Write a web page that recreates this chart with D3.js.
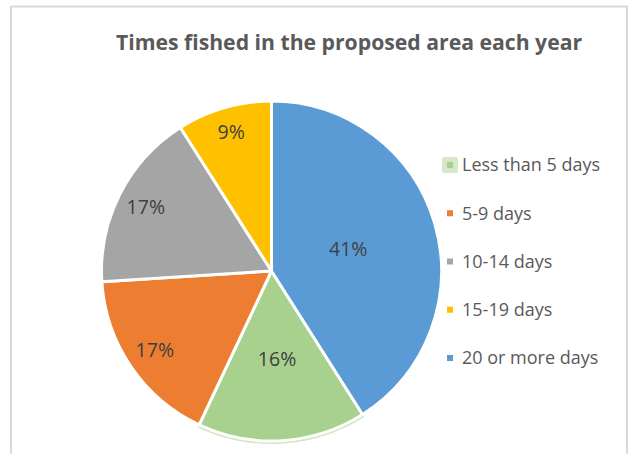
<!DOCTYPE html>
<html>
<head>
<meta charset="utf-8">
<script src="https://cdn.jsdelivr.net/npm/d3@7"></script>
<style>
  body { margin: 0; background: #fff; }
  svg { display: block; }
</style>
</head>
<body>
<script>
// values (percent of respondents)
const categories = ["Less than 5 days", "5-9 days", "10-14 days", "15-19 days", "20 or more days"];
const shares = [16, 17, 17, 9, 41];
const sliceColors = ["#a9d18e", "#ed7d31", "#a5a5a5", "#ffc000", "#5b9bd5"];
const chartTitle = "Times fished in the proposed area each year";

const width = 629, height = 454;
const cx = 271.5, cy = 271, R = 170;
// excel "best fit" label distance, as fraction of radius, per slice
const labelFrac = [0.52, 0.83, 0.83, 0.85, 0.47];

const svg = d3.select("body").append("svg")
    .attr("width", width)
    .attr("height", height)
    .style("font-family", "'Open Sans', sans-serif");

// chart area frame (bottom edge is cut off)
svg.append("path")
    .attr("d", "M11," + height + "V6.5H627V" + height)
    .attr("fill", "none")
    .attr("stroke", "#d9d9d9")
    .attr("stroke-width", 2);

svg.append("text")
    .attr("x", 349)
    .attr("y", 50)
    .attr("text-anchor", "middle")
    .attr("font-size", 21.2)
    .attr("font-weight", "bold")
    .attr("fill", "#595959")
    .text(chartTitle);

// blue slice ends at 12 o'clock, so start the first slice where the rest leave off
const total = d3.sum(shares);
const a0 = 2 * Math.PI * shares[shares.length - 1] / total;
const pie = d3.pie().sort(null).value(d => d).startAngle(a0).endAngle(a0 + 2 * Math.PI);
const arcs = pie(shares);
const arc = d3.arc().innerRadius(0).outerRadius(R);

const g = svg.append("g").attr("transform", `translate(${cx},${cy})`);

// selection glow on the first slice
g.append("path")
    .attr("d", d3.arc().innerRadius(R - 2).outerRadius(R + 3)(arcs[0]))
    .attr("fill", "#cfe5c0");

g.selectAll("path.slice")
    .data(arcs)
    .join("path")
    .attr("class", "slice")
    .attr("d", arc)
    .attr("fill", (d, i) => sliceColors[i])
    .attr("stroke", "#fff")
    .attr("stroke-width", 3)
    .attr("stroke-linejoin", "round");

g.selectAll("text.pct")
    .data(arcs)
    .join("text")
    .attr("class", "pct")
    .attr("transform", (d, i) => {
        const r = R * labelFrac[i];
        return `translate(${d3.arc().innerRadius(r).outerRadius(r).centroid(d)})`;
    })
    .attr("text-anchor", "middle")
    .attr("dy", "0.35em")
    .attr("font-size", 19.5)
    .attr("fill", "#404040")
    .text(d => d.data + "%");

// legend
const rowY = d3.scalePoint().domain(categories).range([165, 358]);
const leg = svg.append("g")
    .selectAll("g")
    .data(categories)
    .join("g")
    .attr("transform", d => `translate(450,${rowY(d)})`);

leg.filter((d, i) => i === 0).append("rect")
    .attr("x", -8).attr("y", -8)
    .attr("width", 16).attr("height", 16)
    .attr("rx", 2)
    .attr("fill", "#d5e8c8");

leg.append("rect")
    .attr("x", -3).attr("y", -3)
    .attr("width", 6).attr("height", 6)
    .attr("fill", (d, i) => sliceColors[i]);

leg.append("text")
    .attr("x", 12)
    .attr("dy", "0.35em")
    .attr("font-size", 18)
    .attr("fill", "#595959")
    .text(d => d);
</script>
</body>
</html>
